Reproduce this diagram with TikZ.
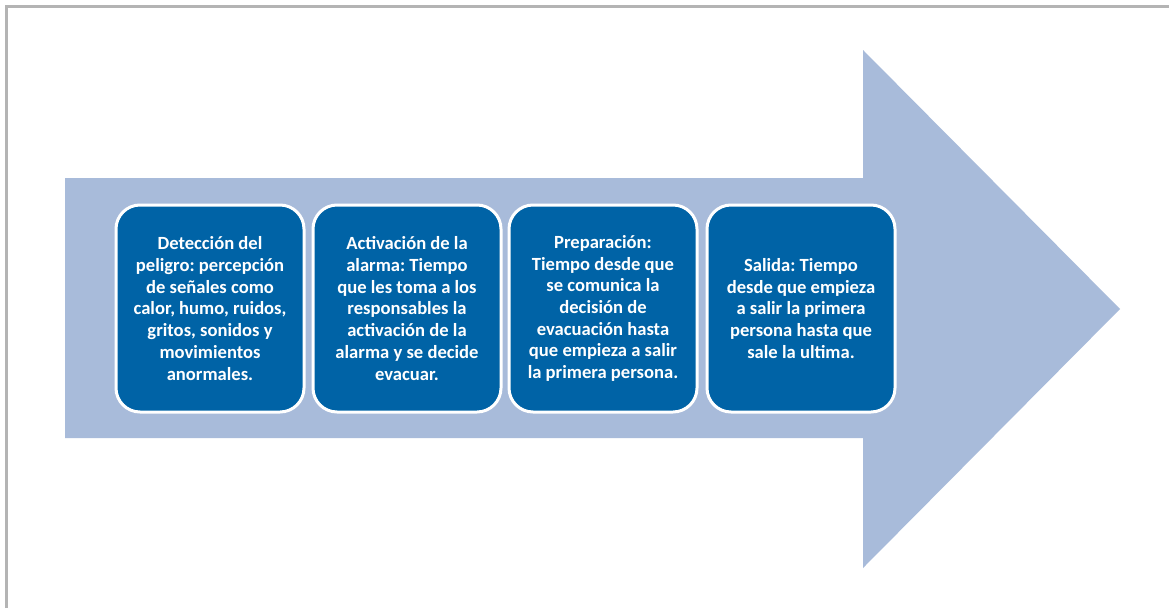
\documentclass[tikz,border=0pt]{standalone}
\usepackage{fontspec}
\setmainfont{Carlito}
\definecolor{arrowc}{HTML}{A8BBDA}
\definecolor{boxc}{HTML}{0063A6}
\definecolor{framec}{HTML}{B4B4B4}
\tikzset{
  stagebox/.style={draw=white, line width=3pt, fill=boxc, rounded corners=24pt,
    minimum width=188pt, minimum height=207pt, inner sep=0pt, text=white,
    align=center, font=\bfseries\fontsize{18.6}{21.7}\selectfont\frenchspacing}
}
\begin{document}
\begin{tikzpicture}[x=1pt,y=-1pt]
\useasboundingbox (0,0) rectangle (1169,608);
\fill[white] (0,0) rectangle (1169,608);
\draw[framec, line width=3pt] (6.5,608) -- (6.5,6.5) -- (1169,6.5);
\fill[arrowc] (65,178) -- (863,178) -- (863,50) -- (1120,309) -- (863,568) -- (863,438) -- (65,438) -- cycle;
\node[stagebox] (b1) at (210,308.5) {Detección del\\peligro: percepción\\de señales como\\calor, humo, ruidos,\\gritos, sonidos y\\movimientos\\anormales.};
\node[stagebox] (b2) at (407,308.5) {Activación de la\\alarma: Tiempo\\que les toma a los\\responsables la\\activación de la\\alarma y se decide\\evacuar.};
\node[stagebox] (b3) at (603,308.5) {Preparación:\\Tiempo desde que\\se comunica la\\decisión de\\evacuación hasta\\que empieza a salir\\la primera persona.};
\node[stagebox] (b4) at (801,308.5) {Salida: Tiempo\\desde que empieza\\a salir la primera\\persona hasta que\\sale la ultima.};
\end{tikzpicture}
\end{document}
